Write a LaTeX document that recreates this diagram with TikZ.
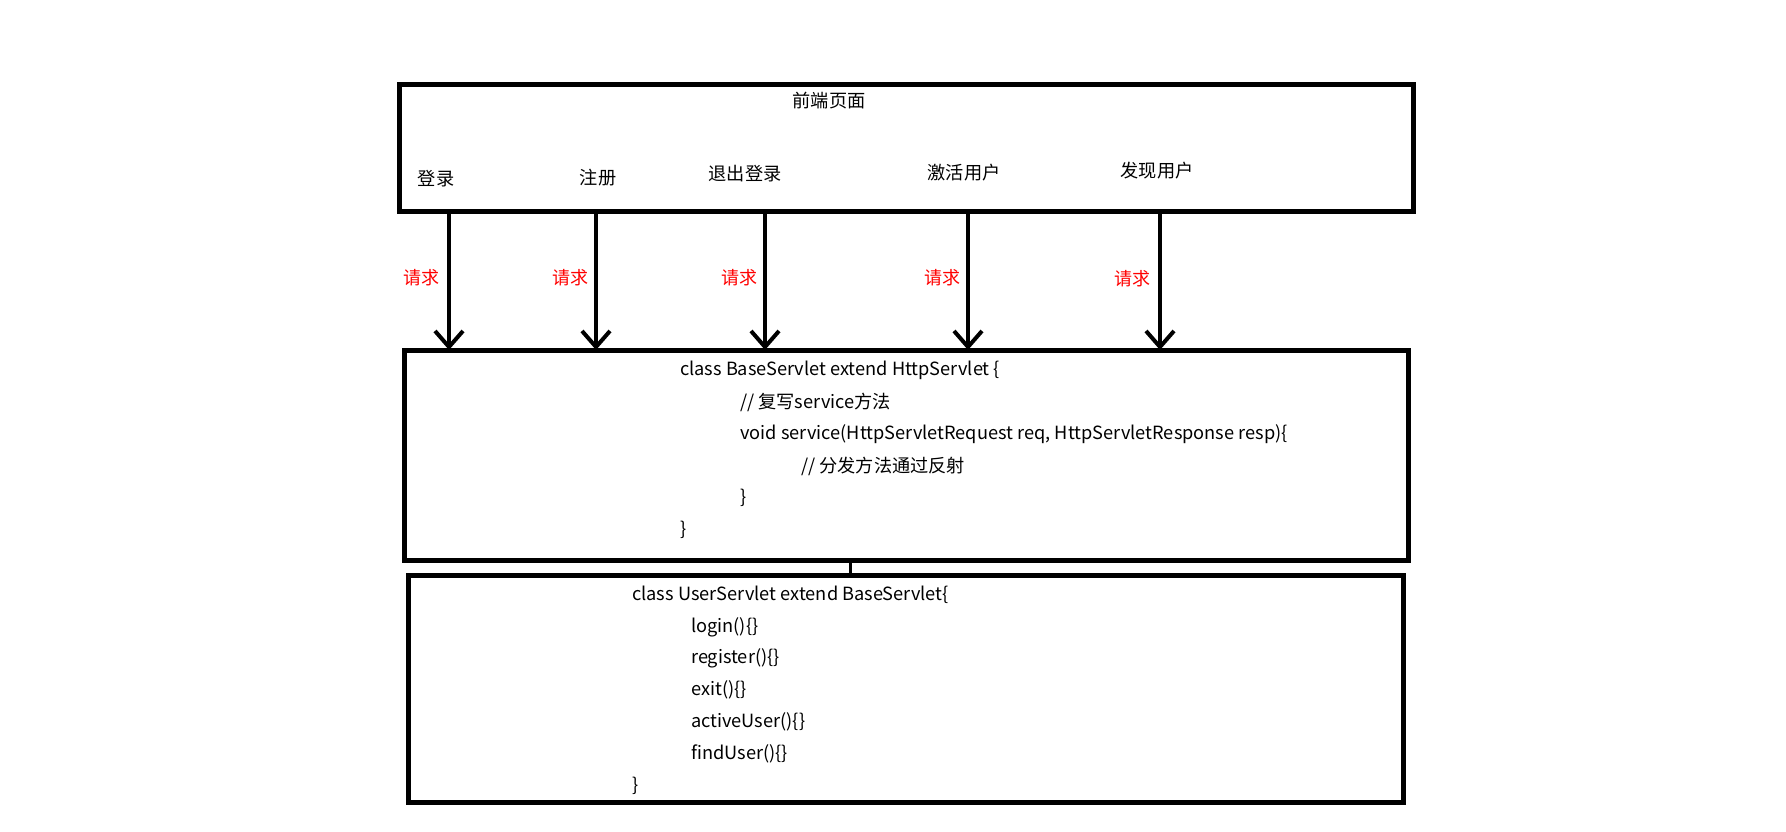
\documentclass[tikz,border=0pt]{standalone}
\usepackage{fontspec}
\setmainfont{Noto Sans CJK SC}
\newfontfamily\cjk{Noto Sans CJK SC}
\usetikzlibrary{arrows.meta}
\begin{document}
\begin{tikzpicture}[x=1pt,y=-1pt,
  box/.style={draw, line width=5pt, inner sep=0pt, outer sep=0pt},
  txt/.style={inner sep=0pt, font=\fontsize{18.2}{22}\selectfont},
  code/.style={txt, anchor=west},
  reqlab/.style={inner sep=0pt, text=red, font=\fontsize{18}{20}\selectfont\cjk},
  req/.style={line width=4.5pt, -{Straight Barb[length=16pt,width=28pt,line width=4pt]}},
]
\useasboundingbox (0,0) rectangle (1786,832);
\fill[white] (0,0) rectangle (1786,832);
% boxes
\node[box, minimum width=1014pt, minimum height=126pt] (front) at (906,148) {};
\node[box, minimum width=1004pt, minimum height=210pt] (base) at (906,455) {};
\node[box, minimum width=995pt, minimum height=227pt] (user) at (905.5,688.5) {};
% front page texts
\node[txt] (title) at (829,101) {\cjk 前端页面};
\node[txt] (l1) at (436,179) {\cjk 登录};
\node[txt] (l2) at (598,178) {\cjk 注册};
\node[txt] (l3) at (745,174) {\cjk 退出登录};
\node[txt] (l4) at (964,173) {\cjk 激活用户};
\node[txt] (l5) at (1157,171) {\cjk 发现用户};
% arrows
\coordinate (a1) at (449,211);
\coordinate (a2) at (596,211);
\coordinate (a3) at (765,211);
\coordinate (a4) at (968,211);
\coordinate (a5) at (1160,211);
\foreach \i in {1,...,5} {
  \draw[req] (front.south -| a\i) -- (base.north -| a\i);
}
\node[reqlab] (r1) at (421,278) {请求};
\node[reqlab] (r2) at (570,278) {请求};
\node[reqlab] (r3) at (739,278) {请求};
\node[reqlab] (r4) at (942,278) {请求};
\node[reqlab] (r5) at (1132,279) {请求};
% base servlet code
\node[code] (b1) at (680,370) {class BaseServlet extend HttpServlet \{};
\node[code] (b2) at (740,402) {// {\cjk 复写}service{\cjk 方法}};
\node[code] (b3) at (740,434) {void service(HttpServletRequest req, HttpServletResponse resp)\{};
\node[code] (b4) at (801,466) {// {\cjk 分发方法通过反射}};
\node[code] (b5) at (740,498) {\}};
\node[code] (b6) at (680,530) {\}};
% connector
\coordinate (c) at (850,560);
\draw[line width=3pt] (base.south -| c) -- (user.north -| c);
% user servlet code
\node[code] (u1) at (632,595) {class UserServlet extend BaseServlet\{};
\node[code] (u2) at (691,627) {login()\{\}};
\node[code] (u3) at (691,658) {register()\{\}};
\node[code] (u4) at (691,690) {exit()\{\}};
\node[code] (u5) at (691,722) {activeUser()\{\}};
\node[code] (u6) at (691,754) {findUser()\{\}};
\node[code] (u7) at (632,786) {\}};
\end{tikzpicture}
\end{document}
